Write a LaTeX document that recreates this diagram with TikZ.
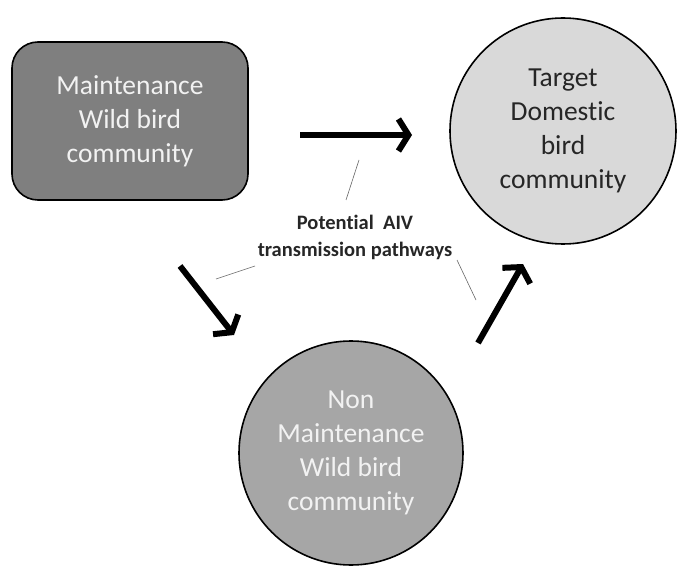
\documentclass[tikz,border=0pt]{standalone}
\usepackage{fontspec}
\setmainfont[Ligatures=NoCommon]{Carlito}
\usetikzlibrary{arrows.meta}
\definecolor{darkfill}{HTML}{7F7F7F}
\definecolor{midfill}{HTML}{A6A6A6}
\definecolor{lightfill}{HTML}{D9D9D9}
\definecolor{txtdark}{HTML}{262626}
\definecolor{txtlight}{HTML}{F2F2F2}
\tikzset{
  bigtext/.style={font=\fontsize{27.5}{34}\selectfont, align=center},
  community/.style={draw=black, line width=1.6pt, bigtext},
  flow/.style={line width=6pt, -{Straight Barb[length=10pt, width=32pt, line width=6pt]}},
  pointer/.style={draw=gray!80!black, line width=0.6pt},
}
\begin{document}
\begin{tikzpicture}[x=1pt, y=-1pt]
\useasboundingbox (0,0) rectangle (678,567);
% nodes
\node[community, fill=darkfill, text=txtlight, rounded corners=26pt,
      minimum width=236pt, minimum height=158pt] (maint) at (130,121)
      {Maintenance\\Wild bird\\community};
\node[community, circle, fill=lightfill, text=txtdark, minimum size=226pt,
      inner sep=0pt] (target) at (563,131)
      {Target\\Domestic\\bird\\community};
\node[community, circle, fill=midfill, text=txtlight, minimum size=224pt,
      inner sep=0pt] (nonmaint) at (351,453)
      {Non\\Maintenance\\Wild bird\\community};
\node[font=\bfseries\fontsize{20.5}{27}\selectfont, text=txtdark, align=center]
      (label) at (355,237) {Potential\ \ AIV\\transmission pathways};
% arrows
\coordinate (a1s) at (300,135);
\coordinate (a1e) at (412,135);
\coordinate (a2s) at (180,266);
\coordinate (a2e) at (234,335);
\coordinate (a3s) at (478,343);
\coordinate (a3e) at (523,264);
\draw[flow] (a1s) -- (a1e);
\draw[flow] (a2s) -- (a2e);
\draw[flow] (a3s) -- (a3e);
% pointer lines
\coordinate (p1a) at (359,160);
\coordinate (p1b) at (346,200);
\coordinate (p2a) at (255,266);
\coordinate (p2b) at (216,279);
\coordinate (p3a) at (457,260);
\coordinate (p3b) at (476,300);
\draw[pointer] (p1a) -- (p1b);
\draw[pointer] (p2a) -- (p2b);
\draw[pointer] (p3a) -- (p3b);
\end{tikzpicture}
\end{document}
